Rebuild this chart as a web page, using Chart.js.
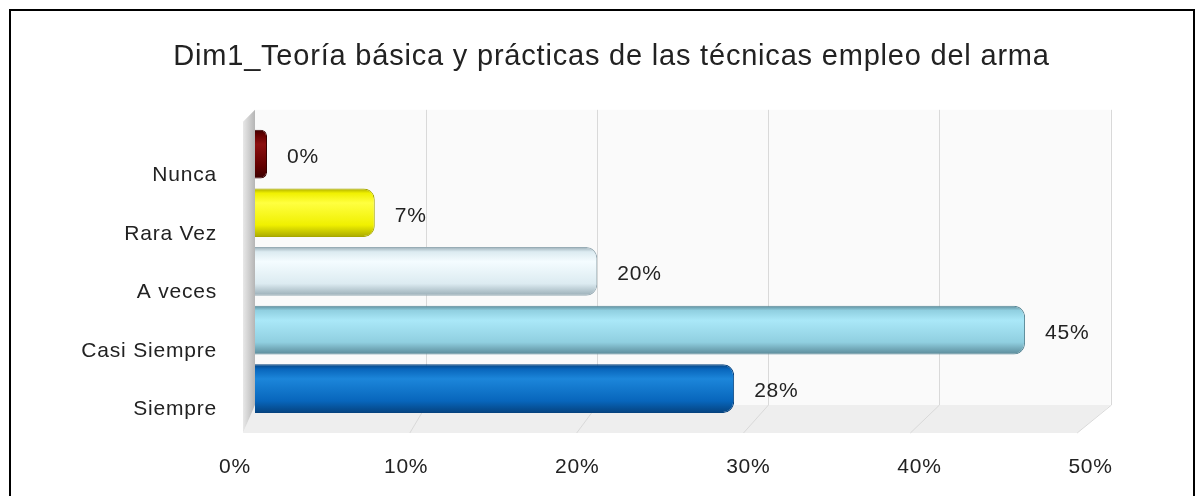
<!DOCTYPE html>
<html>
<head>
<meta charset="utf-8">
<script src="https://cdn.jsdelivr.net/npm/chart.js@4/dist/chart.umd.min.js"></script>
<style>
  body { margin: 0; background: #fff; }
  #frame { position: absolute; left: 9px; top: 9px; width: 1182px; height: 520px; border: 2px solid #000; }
  #wrap { position: absolute; left: 0; top: 0; width: 1203px; height: 496px; }
</style>
</head>
<body>
<div id="frame"></div>
<div id="wrap"><canvas id="chart" width="1203" height="496"></canvas></div>
<script>
var titleText = "Dim1_Teoría básica y prácticas de las técnicas empleo del arma";
var categories = ["Nunca", "Rara Vez", "A veces", "Casi Siempre", "Siempre"];
var values = [0, 7, 20, 45, 28];
var xTicks = [0, 10, 20, 30, 40, 50];
var barColors = [
  ["#3a0000", "#8c1010", "#620000"],
  ["#a8a800", "#ffff40", "#f0f000"],
  ["#98acb5", "#f4fcff", "#dcebf1"],
  ["#5a8998", "#aae8f8", "#90cfe0"],
  ["#05427e", "#1c86da", "#0866bc"]
];

var FONT = "'Liberation Sans', Arial, sans-serif";

// a little extra letter spacing like the original rendering
var spacingPlugin = {
  id: "spacing",
  beforeUpdate: function(chart) { chart.ctx.letterSpacing = "0.8px"; },
  beforeDraw: function(chart) { chart.ctx.letterSpacing = "0.8px"; }
};

// back wall, floor and gridlines (3D look)
var wallPlugin = {
  id: "wall",
  beforeDatasetsDraw: function(chart) {
    var ctx = chart.ctx;
    var a = chart.chartArea;
    var x = chart.scales.x;
    var left = x.getPixelForValue(0), right = x.getPixelForValue(50);
    var top = a.top - 15, floorBack = a.bottom - 13, floorFront = a.bottom + 15;
    var fx = function(v) { return left - 12 + (x.getPixelForValue(v) - left) * 0.975; };
    ctx.save();
    ctx.fillStyle = "#fafafa";
    ctx.fillRect(left, top, right - left, floorBack - top);
    // floor
    ctx.fillStyle = "#eeeeee";
    ctx.beginPath();
    ctx.moveTo(left, floorBack);
    ctx.lineTo(right, floorBack);
    ctx.lineTo(fx(50), floorFront);
    ctx.lineTo(fx(0), floorFront);
    ctx.closePath();
    ctx.fill();
    // left side wall
    var g = ctx.createLinearGradient(left - 13, 0, left, 0);
    g.addColorStop(0, "#ececec");
    g.addColorStop(1, "#b5b5b5");
    ctx.fillStyle = g;
    ctx.beginPath();
    ctx.moveTo(left, top);
    ctx.lineTo(left, floorBack);
    ctx.lineTo(fx(0), floorFront);
    ctx.lineTo(fx(0), top + 12);
    ctx.closePath();
    ctx.fill();
    // gridlines
    ctx.strokeStyle = "#d9d9d9";
    ctx.lineWidth = 1;
    xTicks.forEach(function(t) {
      if (t === 0) return;
      var px = Math.round(x.getPixelForValue(t)) + 0.5;
      ctx.beginPath();
      ctx.moveTo(px, top);
      ctx.lineTo(px, floorBack);
      ctx.lineTo(fx(t), floorFront);
      ctx.stroke();
    });
    ctx.restore();
  }
};

// value labels next to each bar
var valuePlugin = {
  id: "values",
  afterDatasetsDraw: function(chart) {
    var ctx = chart.ctx;
    var meta = chart.getDatasetMeta(0);
    ctx.save();
    ctx.font = "21px " + FONT;
    ctx.fillStyle = "#222";
    ctx.textBaseline = "middle";
    ctx.textAlign = "left";
    meta.data.forEach(function(bar, i) {
      ctx.fillText(values[i] + "%", bar.x + 20, bar.y + 3);
    });
    ctx.restore();
  }
};

function barGradient(c) {
  var chart = c.chart;
  if (!chart.chartArea) return barColors[c.dataIndex][2];
  var y = chart.scales.y.getPixelForValue(c.dataIndex);
  var h = 49;
  var cols = barColors[c.dataIndex];
  var g = chart.ctx.createLinearGradient(0, y - h / 2, 0, y + h / 2);
  g.addColorStop(0, cols[0]);
  g.addColorStop(0.1, cols[2]);
  g.addColorStop(0.3, cols[1]);
  g.addColorStop(0.75, cols[2]);
  g.addColorStop(1, cols[0]);
  return g;
}

new Chart(document.getElementById("chart"), {
  type: "bar",
  data: {
    labels: categories,
    datasets: [{
      data: values,
      backgroundColor: barGradient,
      borderColor: barColors.map(function(c) { return c[0]; }),
      borderWidth: 1,
      borderRadius: 11,
      borderSkipped: "start",
      minBarLength: 12,
      barPercentage: 0.83,
      categoryPercentage: 1
    }]
  },
  options: {
    indexAxis: "y",
    responsive: false,
    animation: false,
    layout: { padding: { left: 20, right: 0, top: 0, bottom: 0 } },
    plugins: {
      legend: { display: false },
      tooltip: { enabled: false },
      title: {
        display: true,
        text: titleText,
        color: "#222",
        font: { family: FONT, size: 29, weight: "normal" },
        padding: { top: 40, bottom: 50 }
      }
    },
    scales: {
      x: {
        min: 0,
        max: 55.4,
        afterFit: function(s) { s.height = 78; },
        afterBuildTicks: function(s) { s.ticks = xTicks.map(function(v) { return { value: v }; }); },
        grid: { display: false, drawTicks: false },
        border: { display: false },
        ticks: {
          padding: 37,
          labelOffset: -20,
          color: "#222",
          font: { family: FONT, size: 21 },
          callback: function(v) { return v + "%"; }
        }
      },
      y: {
        afterFit: function(s) { s.width = 235; },
        grid: { display: false, drawTicks: false },
        border: { display: false },
        ticks: {
          padding: 38,
          labelOffset: 21,
          color: "#222",
          font: { family: FONT, size: 21 }
        }
      }
    }
  },
  plugins: [spacingPlugin, wallPlugin, valuePlugin]
});
</script>
</body>
</html>
